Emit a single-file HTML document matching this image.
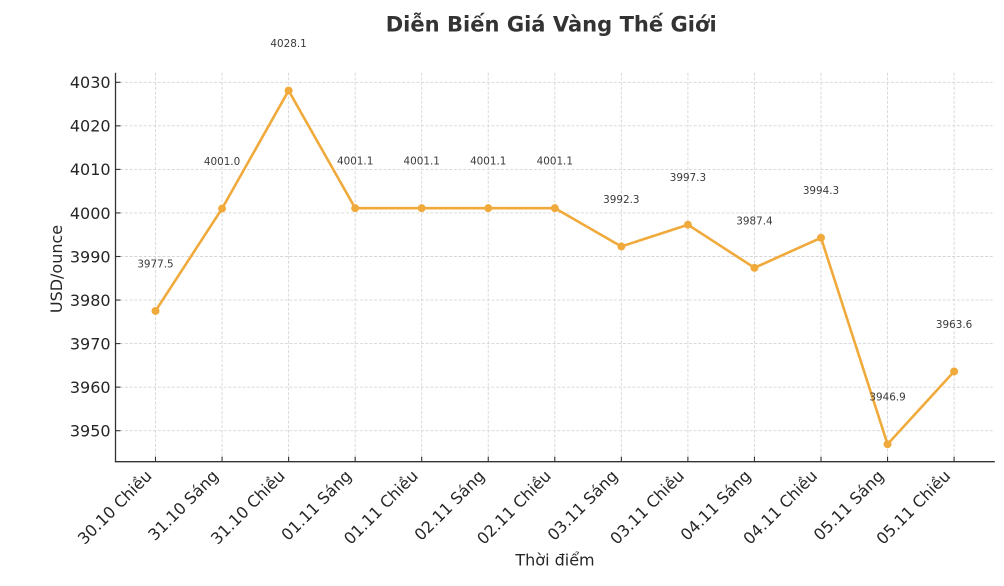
<!DOCTYPE html>
<html><head><meta charset="utf-8"><style>
html,body{margin:0;padding:0;background:#fff;}
svg{display:block;}
text{font-family:"DejaVu Sans","Liberation Sans",sans-serif;}
</style></head><body>
<svg width="1004" height="586" viewBox="0 0 1004 586" xmlns="http://www.w3.org/2000/svg">
<rect width="1004" height="586" fill="#fff"/>
<!-- grid -->
<g stroke="#d6d6d6" stroke-width="0.9" stroke-dasharray="3,1.7" fill="none">
<line x1="115.5" x2="994.5" y1="82.3" y2="82.3"/>
<line x1="115.5" x2="994.5" y1="125.85" y2="125.85"/>
<line x1="115.5" x2="994.5" y1="169.4" y2="169.4"/>
<line x1="115.5" x2="994.5" y1="212.95" y2="212.95"/>
<line x1="115.5" x2="994.5" y1="256.5" y2="256.5"/>
<line x1="115.5" x2="994.5" y1="300.05" y2="300.05"/>
<line x1="115.5" x2="994.5" y1="343.6" y2="343.6"/>
<line x1="115.5" x2="994.5" y1="387.15" y2="387.15"/>
<line x1="115.5" x2="994.5" y1="430.7" y2="430.7"/>
<line y1="72.7" y2="461.7" x1="155.5" x2="155.5"/>
<line y1="72.7" y2="461.7" x1="222.05" x2="222.05"/>
<line y1="72.7" y2="461.7" x1="288.6" x2="288.6"/>
<line y1="72.7" y2="461.7" x1="355.15" x2="355.15"/>
<line y1="72.7" y2="461.7" x1="421.7" x2="421.7"/>
<line y1="72.7" y2="461.7" x1="488.25" x2="488.25"/>
<line y1="72.7" y2="461.7" x1="554.8" x2="554.8"/>
<line y1="72.7" y2="461.7" x1="621.35" x2="621.35"/>
<line y1="72.7" y2="461.7" x1="687.9" x2="687.9"/>
<line y1="72.7" y2="461.7" x1="754.45" x2="754.45"/>
<line y1="72.7" y2="461.7" x1="821" x2="821"/>
<line y1="72.7" y2="461.7" x1="887.55" x2="887.55"/>
<line y1="72.7" y2="461.7" x1="954.1" x2="954.1"/>
</g>
<!-- spines -->
<g stroke="#333" stroke-width="1.3" fill="none">
<line x1="115.5" y1="72.7" x2="115.5" y2="462.3"/>
<line x1="114.9" y1="461.7" x2="994.8" y2="461.7"/>
</g>
<!-- ticks (inward) -->
<g stroke="#333" stroke-width="1.1">
<line x1="115.5" x2="120.5" y1="82.3" y2="82.3"/>
<line x1="115.5" x2="120.5" y1="125.85" y2="125.85"/>
<line x1="115.5" x2="120.5" y1="169.4" y2="169.4"/>
<line x1="115.5" x2="120.5" y1="212.95" y2="212.95"/>
<line x1="115.5" x2="120.5" y1="256.5" y2="256.5"/>
<line x1="115.5" x2="120.5" y1="300.05" y2="300.05"/>
<line x1="115.5" x2="120.5" y1="343.6" y2="343.6"/>
<line x1="115.5" x2="120.5" y1="387.15" y2="387.15"/>
<line x1="115.5" x2="120.5" y1="430.7" y2="430.7"/>
<line y1="461.7" y2="456.7" x1="155.5" x2="155.5"/>
<line y1="461.7" y2="456.7" x1="222.05" x2="222.05"/>
<line y1="461.7" y2="456.7" x1="288.6" x2="288.6"/>
<line y1="461.7" y2="456.7" x1="355.15" x2="355.15"/>
<line y1="461.7" y2="456.7" x1="421.7" x2="421.7"/>
<line y1="461.7" y2="456.7" x1="488.25" x2="488.25"/>
<line y1="461.7" y2="456.7" x1="554.8" x2="554.8"/>
<line y1="461.7" y2="456.7" x1="621.35" x2="621.35"/>
<line y1="461.7" y2="456.7" x1="687.9" x2="687.9"/>
<line y1="461.7" y2="456.7" x1="754.45" x2="754.45"/>
<line y1="461.7" y2="456.7" x1="821" x2="821"/>
<line y1="461.7" y2="456.7" x1="887.55" x2="887.55"/>
<line y1="461.7" y2="456.7" x1="954.1" x2="954.1"/>
</g>
<!-- y tick labels -->
<g font-size="16" fill="#262626" text-anchor="end">
<text x="110.6" y="88.1">4030</text>
<text x="110.6" y="131.65">4020</text>
<text x="110.6" y="175.2">4010</text>
<text x="110.6" y="218.75">4000</text>
<text x="110.6" y="262.3">3990</text>
<text x="110.6" y="305.85">3980</text>
<text x="110.6" y="349.4">3970</text>
<text x="110.6" y="392.95">3960</text>
<text x="110.6" y="436.5">3950</text>
</g>
<!-- x tick labels -->
<g font-size="16" fill="#262626" text-anchor="end">
<text transform="translate(152.8,477) rotate(-45)">30.10 Chiều</text>
<text transform="translate(219.35,477) rotate(-45)">31.10 Sáng</text>
<text transform="translate(285.9,477) rotate(-45)">31.10 Chiều</text>
<text transform="translate(352.45,477) rotate(-45)">01.11 Sáng</text>
<text transform="translate(419,477) rotate(-45)">01.11 Chiều</text>
<text transform="translate(485.55,477) rotate(-45)">02.11 Sáng</text>
<text transform="translate(552.1,477) rotate(-45)">02.11 Chiều</text>
<text transform="translate(618.65,477) rotate(-45)">03.11 Sáng</text>
<text transform="translate(685.2,477) rotate(-45)">03.11 Chiều</text>
<text transform="translate(751.75,477) rotate(-45)">04.11 Sáng</text>
<text transform="translate(818.3,477) rotate(-45)">04.11 Chiều</text>
<text transform="translate(884.85,477) rotate(-45)">05.11 Sáng</text>
<text transform="translate(951.4,477) rotate(-45)">05.11 Chiều</text>
</g>
<!-- axis labels -->
<text x="555" y="565.5" font-size="16" fill="#262626" text-anchor="middle">Thời điểm</text>
<text transform="translate(61.8,269) rotate(-90)" font-size="16" fill="#262626" text-anchor="middle">USD/ounce</text>
<!-- title -->
<text x="551.2" y="31.7" font-size="21.3" font-weight="bold" fill="#333" text-anchor="middle" textLength="331" lengthAdjust="spacingAndGlyphs">Diễn Biến Giá Vàng Thế Giới</text>
<!-- series -->
<polyline fill="none" stroke="#F0AA3C" stroke-width="2.6" stroke-linejoin="round" points="155.5,310.94 222.05,208.6 288.6,90.57 355.15,208.16 421.7,208.16 488.25,208.16 554.8,208.16 621.35,246.48 687.9,224.71 754.45,267.82 821,237.77 887.55,444.2 954.1,371.47"/>
<g fill="#F0AA3C">
<circle cx="155.5" cy="310.94" r="4"/>
<circle cx="222.05" cy="208.6" r="4"/>
<circle cx="288.6" cy="90.57" r="4"/>
<circle cx="355.15" cy="208.16" r="4"/>
<circle cx="421.7" cy="208.16" r="4"/>
<circle cx="488.25" cy="208.16" r="4"/>
<circle cx="554.8" cy="208.16" r="4"/>
<circle cx="621.35" cy="246.48" r="4"/>
<circle cx="687.9" cy="224.71" r="4"/>
<circle cx="754.45" cy="267.82" r="4"/>
<circle cx="821" cy="237.77" r="4"/>
<circle cx="887.55" cy="444.2" r="4"/>
<circle cx="954.1" cy="371.47" r="4"/>
</g>
<!-- annotations -->
<g font-size="10.4" fill="#3a3a3a" text-anchor="middle">
<text x="155.5" y="267.4">3977.5</text>
<text x="222.05" y="165.05">4001.0</text>
<text x="288.6" y="47.0">4028.1</text>
<text x="355.15" y="164.6">4001.1</text>
<text x="421.7" y="164.6">4001.1</text>
<text x="488.25" y="164.6">4001.1</text>
<text x="554.8" y="164.6">4001.1</text>
<text x="621.35" y="202.9">3992.3</text>
<text x="687.9" y="181.2">3997.3</text>
<text x="754.45" y="224.3">3987.4</text>
<text x="821" y="194.2">3994.3</text>
<text x="887.55" y="400.65">3946.9</text>
<text x="954.1" y="327.9">3963.6</text>
</g>
</svg>
</body></html>
